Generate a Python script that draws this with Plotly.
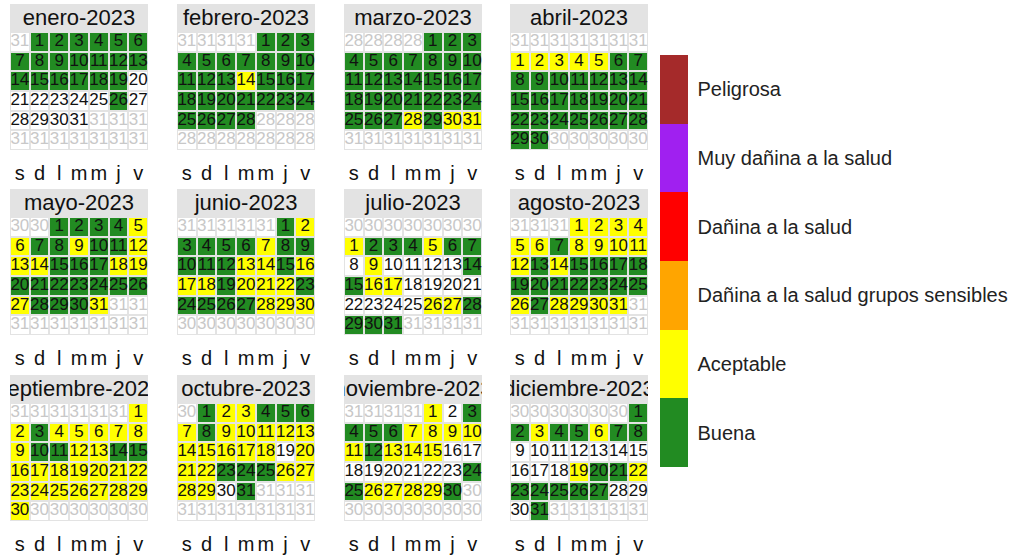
import calendar
import datetime
import math
import plotly.graph_objects as go

YEAR = 2023
month_titles = ["enero-2023", "febrero-2023", "marzo-2023", "abril-2023",
                "mayo-2023", "junio-2023", "julio-2023", "agosto-2023",
                "septiembre-2023", "octubre-2023", "noviembre-2023", "diciembre-2023"]
weekday_labels = ["s", "d", "l", "m", "m", "j", "v"]
category_labels = ["Buena", "Aceptable", "Dañina a la salud grupos sensibles",
                   "Dañina a la salud", "Muy dañina a la salud", "Peligrosa"]
category_colors = ["#228B22", "#FFFF00", "#FFA500", "#FF0000", "#A020F0", "#A52A2A"]

# daily category per month: 0 = no data, 1 = Buena, 2 = Aceptable
jan = [1, 1, 1, 1, 1, 1, 1, 1, 1, 1, 1, 1, 1, 1, 1, 1, 1, 1, 1, 0,
       0, 0, 0, 0, 0, 1, 0, 0, 0, 0, 0]
feb = [1, 1, 1, 1, 1, 1, 1, 1, 1, 1, 1, 1, 1, 2, 1, 1, 1, 1, 1, 1,
       1, 1, 1, 1, 1, 1, 1, 1]
mar = [1, 1, 1, 1, 1, 1, 1, 1, 1, 1, 1, 1, 1, 1, 1, 1, 1, 1, 1, 1,
       1, 1, 1, 1, 1, 1, 1, 2, 1, 2, 2]
apr = [2, 2, 2, 2, 2, 1, 1, 1, 1, 1, 1, 1, 1, 1, 1, 1, 1, 1, 1, 1,
       1, 1, 1, 1, 1, 1, 1, 1, 1, 1]
may = [1, 1, 1, 1, 2, 2, 1, 1, 2, 1, 1, 2, 2, 2, 1, 1, 1, 2, 2, 1,
       1, 1, 1, 1, 1, 1, 2, 1, 1, 1, 2]
jun = [1, 2, 1, 1, 1, 1, 2, 1, 1, 1, 1, 1, 2, 2, 1, 2, 2, 2, 1, 2,
       2, 2, 1, 1, 1, 1, 1, 2, 2, 2]
jul = [2, 1, 1, 1, 2, 1, 1, 0, 2, 0, 0, 0, 0, 1, 1, 2, 2, 0, 0, 0,
       0, 0, 0, 0, 0, 2, 2, 1, 1, 1, 1]
aug = [2, 2, 2, 2, 2, 2, 1, 2, 2, 2, 2, 2, 1, 2, 1, 1, 1, 1, 1, 1,
       1, 1, 1, 1, 1, 2, 1, 2, 2, 2, 2]
sep = [2, 2, 1, 2, 2, 2, 2, 2, 2, 1, 1, 2, 2, 1, 1, 2, 2, 2, 2, 2,
       2, 2, 2, 2, 2, 2, 2, 2, 2, 2]
oct_ = [1, 2, 2, 1, 1, 1, 2, 1, 2, 2, 2, 2, 2, 2, 2, 2, 2, 2, 0, 2,
        2, 2, 1, 1, 1, 2, 2, 2, 2, 0, 1]
nov = [2, 0, 1, 1, 1, 1, 2, 2, 2, 2, 2, 1, 2, 2, 2, 0, 0, 0, 0, 0,
       0, 0, 0, 1, 1, 2, 2, 2, 2, 1]
dec = [1, 1, 2, 1, 1, 2, 1, 1, 0, 0, 0, 0, 0, 0, 0, 0, 0, 0, 2, 1,
       1, 2, 1, 1, 1, 1, 1, 0, 0, 0, 1]
months = [jan, feb, mar, apr, may, jun, jul, aug, sep, oct_, nov, dec]

W, H = 1019, 557
col_x = [10, 177, 344, 510]
row_top = [4, 189, 375]
PW, PH = 138, 146
HEADER_ROWS = 1.42
FONT = "Liberation Sans, Arial, sans-serif"

fig = go.Figure()
layout_axes = {}

cs = []
for i, c in enumerate(category_colors):
    cs.append([i / 6, c])
    cs.append([(i + 1) / 6, c])

for k, vals in enumerate(months):
    m = k + 1
    r, c = divmod(k, 4)
    ax = "" if k == 0 else str(k + 1)
    xa, ya = "x" + ax, "y" + ax
    wd = datetime.date(YEAR, m, 1).weekday()
    offset = (wd + 2) % 7
    if offset == 0:
        offset = 7
    ndays = calendar.monthrange(YEAR, m)[1]
    py, pm = (YEAR - 1, 12) if m == 1 else (YEAR, m - 1)
    prev_last = calendar.monthrange(py, pm)[1]

    z = [[math.nan] * 7 for _ in range(6)]
    tx, ty, tt, tc = [], [], [], []
    for idx in range(42):
        row, col = divmod(idx, 7)
        tx.append(col)
        ty.append(row)
        if idx < offset:
            tt.append(str(prev_last)); tc.append("#c8c8c8")
        elif idx - offset < ndays:
            d = idx - offset + 1
            tt.append(str(d)); tc.append("#111111")
            v = vals[d - 1]
            if v > 0:
                z[row][col] = v
        else:
            tt.append(str(ndays)); tc.append("#c8c8c8")

    fig.add_trace(go.Heatmap(z=[[0] * 7 for _ in range(6)], x=list(range(7)), y=list(range(6)),
                             colorscale=[[0, "white"], [1, "white"]], showscale=False,
                             xgap=2, ygap=2, hoverinfo="skip", xaxis=xa, yaxis=ya))
    fig.add_trace(go.Heatmap(z=z, x=list(range(7)), y=list(range(6)), coloraxis="coloraxis",
                             xgap=2, ygap=2, hoverinfo="skip", xaxis=xa, yaxis=ya))
    fig.add_trace(go.Scatter(x=tx, y=ty, text=tt, mode="text",
                             textfont=dict(size=17, color=tc, family=FONT),
                             textposition="middle center", cliponaxis=False,
                             hoverinfo="skip", showlegend=False, xaxis=xa, yaxis=ya))
    fig.add_trace(go.Scatter(x=[3], y=[-0.4 - HEADER_ROWS / 2], text=[month_titles[k]], mode="text",
                             textfont=dict(size=22, color="#111111", family=FONT),
                             textposition="middle center", cliponaxis=True,
                             hoverinfo="skip", showlegend=False, xaxis=xa, yaxis=ya))

    x0 = col_x[c]
    top = row_top[r]
    layout_axes["xaxis" + ax] = dict(
        domain=[x0 / W, (x0 + PW) / W], range=[-0.5, 6.5], anchor=ya,
        tickvals=list(range(7)), ticktext=weekday_labels,
        tickfont=dict(size=20, color="#111111", family=FONT),
        ticks="outside", ticklen=5, tickcolor="rgba(0,0,0,0)",
        showgrid=False, zeroline=False, showline=False, fixedrange=True)
    layout_axes["yaxis" + ax] = dict(
        domain=[1 - (top + PH) / H, 1 - top / H], range=[5.5, -0.5 - HEADER_ROWS], anchor=xa,
        showticklabels=False, ticks="", showgrid=False, zeroline=False,
        showline=False, fixedrange=True)

fig.update_layout(
    width=W, height=H, margin=dict(l=0, r=0, t=0, b=0),
    paper_bgcolor="white", plot_bgcolor="#e3e3e3",
    showlegend=False,
    coloraxis=dict(
        colorscale=cs, cmin=0.5, cmax=6.5,
        colorbar=dict(
            tickvals=[1, 2, 3, 4, 5, 6], ticktext=category_labels,
            tickfont=dict(size=20, color="#222222", family=FONT),
            ticks="outside", ticklen=6, tickcolor="rgba(0,0,0,0)",
            x=660 / W, xanchor="left", xpad=0,
            y=1 - 261 / H, yanchor="middle", ypad=0,
            len=412 / H, lenmode="fraction", thickness=28,
            outlinewidth=0,
        ),
    ),
    **layout_axes,
)

fig.write_html("out.html", config={"displayModeBar": False},
               post_script="document.body.style.margin='0';document.body.style.overflow='hidden';")
